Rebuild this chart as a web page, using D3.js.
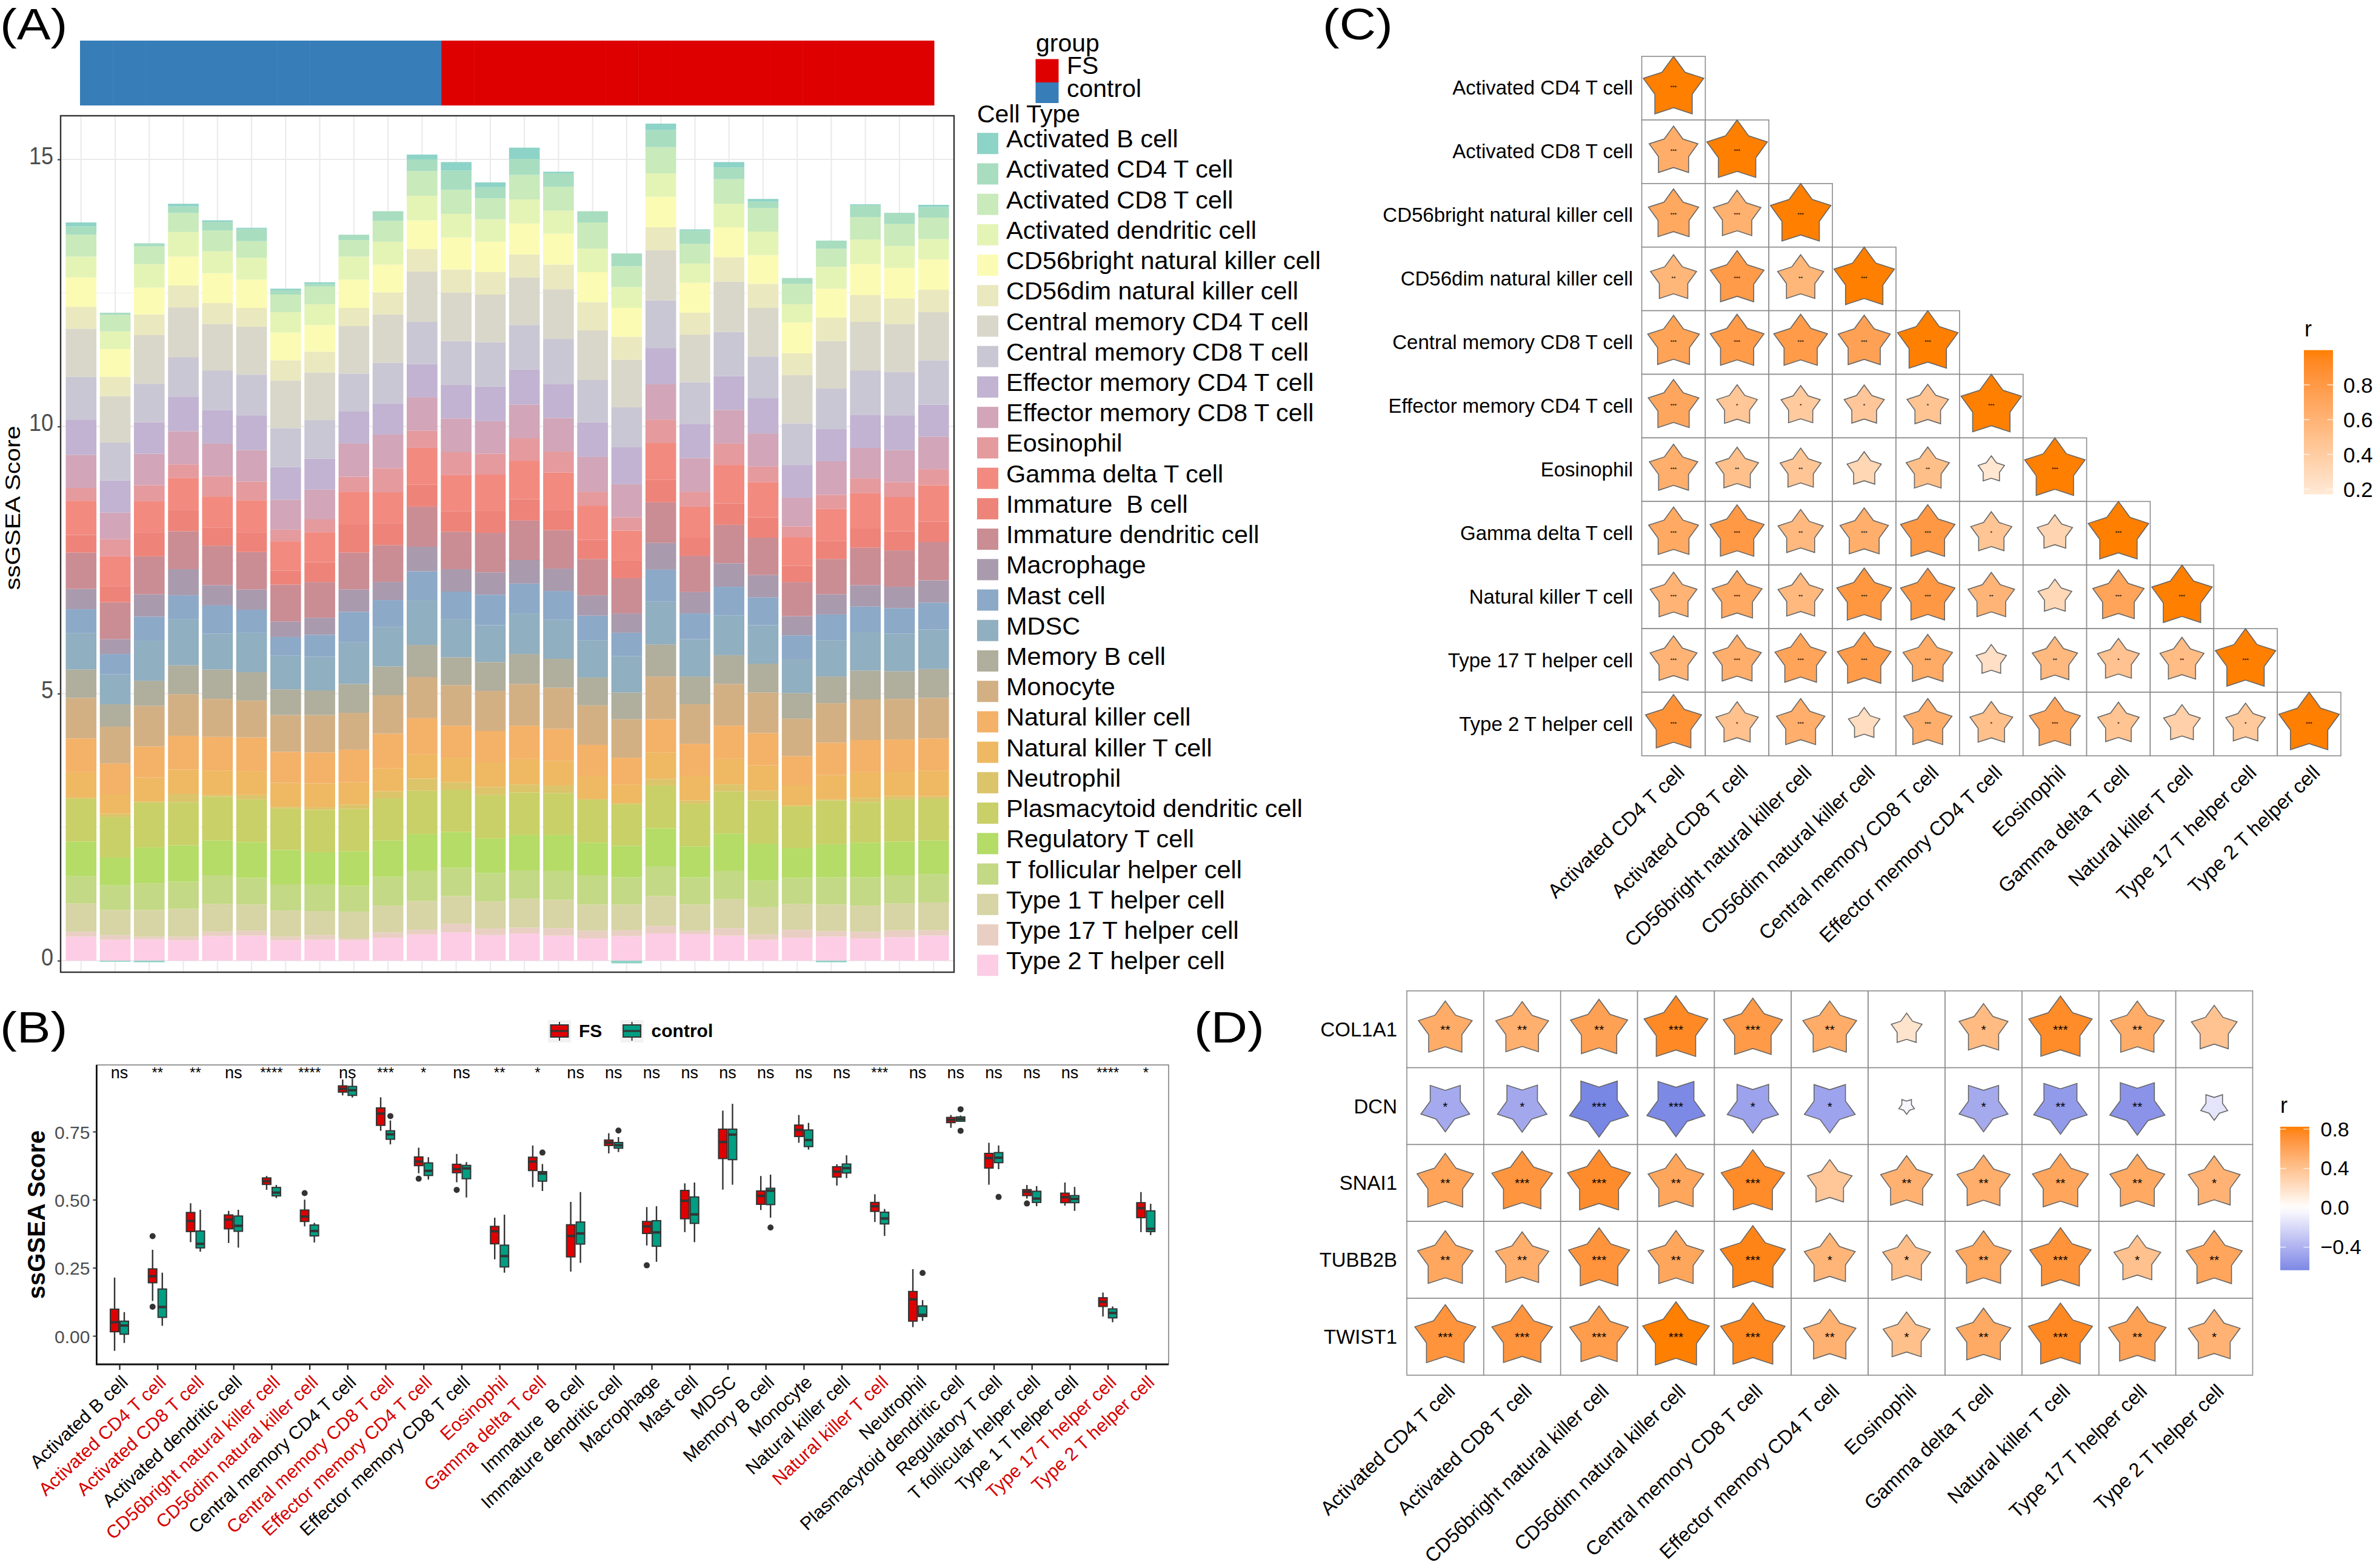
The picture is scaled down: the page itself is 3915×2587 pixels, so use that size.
<!DOCTYPE html>
<html>
<head>
<meta charset="utf-8">
<script src="https://cdnjs.cloudflare.com/ajax/libs/d3/7.8.5/d3.min.js"></script>
<style>
  html, body { margin: 0; padding: 0; background: #fff; overflow: hidden; }
  text { font-family: "Liberation Sans", Arial, sans-serif; white-space: pre; }
</style>
</head>
<body>
<svg id="fig" width="3915" height="2587"></svg>
<script>
// ---- panel A: ssGSEA score per sample, one array per cell type
var sampleGroup = ["control","control","control","control","control","control","control","control","control","control","control",
  "FS","FS","FS","FS","FS","FS","FS","FS","FS","FS","FS","FS","FS","FS","FS"];
var cellTypes = ["Activated B cell","Activated CD4 T cell","Activated CD8 T cell","Activated dendritic cell",
  "CD56bright natural killer cell","CD56dim natural killer cell","Central memory CD4 T cell","Central memory CD8 T cell",
  "Effector memory CD4 T cell","Effector memory CD8 T cell","Eosinophil","Gamma delta T cell","Immature  B cell",
  "Immature dendritic cell","Macrophage","Mast cell","MDSC","Memory B cell","Monocyte","Natural killer cell",
  "Natural killer T cell","Neutrophil","Plasmacytoid dendritic cell","Regulatory T cell","T follicular helper cell",
  "Type 1 T helper cell","Type 17 T helper cell","Type 2 T helper cell"];
var cellColors = ["#8DD3C7","#A8DDC0","#C9EABA","#E4F4B5","#FBFBB4","#EAE8BE","#D9D7C9","#CAC7D4","#C1B3D1","#D2A5B8",
  "#E59A9E","#F28A80","#EE8379","#CA8D94","#A99AAE","#8CA9C8","#90AFC0","#B0AE9C","#D3B084","#F4B168","#EEB962",
  "#DCC46B","#C9D067","#B4DC67","#C3D985","#D7D4A5","#E9CFC3","#FCCDE5"];

var activatedB = [.07,-.02,-.03,.05,.03,.02,.03,.03,0,0,.09,.16,.09,.21,.03,0,-.05,.12,.02,.10,.05,0,-.03,.02,0,.04];
var activatedCD4 = [.16,.04,.06,.12,.16,.23,.08,.05,.10,.18,.22,.36,.21,.30,.25,.21,.24,.32,.25,.22,.12,.11,.15,.22,.21,.20];
var activatedCD8 = [.41,.31,.33,.36,.39,.31,.33,.33,.31,.39,.46,.45,.39,.46,.45,.49,.39,.49,.37,.46,.44,.38,.34,.42,.41,.40];
var activatedDC = [.39,.33,.44,.46,.41,.41,.38,.39,.43,.43,.46,.44,.42,.45,.43,.44,.39,.44,.36,.44,.44,.34,.41,.46,.41,.38];
var cd56bright = [.55,.52,.50,.54,.56,.53,.52,.50,.53,.52,.54,.60,.57,.58,.58,.56,.54,.57,.56,.56,.54,.58,.54,.58,.57,.57];
var cd56dim = [.41,.36,.39,.41,.39,.35,.38,.39,.34,.41,.42,.43,.42,.43,.46,.53,.43,.43,.41,.46,.45,.41,.44,.50,.48,.42];
var centralCD4 = [.90,.87,.91,.93,.87,.90,.89,.89,.89,.91,.94,.91,.89,.89,.93,.93,.89,.94,.89,.94,.91,.90,.89,.91,.90,.90];
var centralCD8 = [.80,.71,.72,.74,.74,.76,.73,.72,.71,.76,.79,.82,.83,.83,.85,.79,.75,.89,.78,.83,.78,.78,.76,.83,.81,.83];
var effectorCD4 = [.66,.60,.59,.65,.63,.65,.61,.58,.60,.58,.62,.63,.65,.66,.63,.65,.69,.68,.64,.63,.66,.61,.60,.62,.65,.60];
var effectorCD8 = [.62,.50,.59,.62,.61,.59,.56,.56,.62,.63,.63,.63,.61,.63,.63,.65,.62,.66,.63,.63,.62,.54,.63,.57,.60,.61];
var eosinophil = [.24,.32,.30,.25,.38,.35,.22,.24,.28,.45,.32,.43,.39,.42,.39,.26,.25,.44,.28,.40,.29,.20,.26,.28,.28,.30];
var gammaDelta = [.64,.56,.58,.60,.58,.60,.55,.56,.61,.58,.69,.68,.68,.72,.70,.64,.56,.69,.58,.72,.66,.54,.60,.66,.64,.68];
var immatureB = [.33,.30,.45,.40,.34,.37,.26,.37,.53,.41,.41,.38,.41,.40,.38,.36,.33,.42,.34,.40,.38,.30,.34,.36,.36,.38];
var immatureDC = [.68,.69,.71,.71,.74,.70,.69,.67,.69,.69,.75,.70,.74,.74,.72,.68,.66,.76,.68,.72,.70,.64,.66,.70,.68,.72];
var macrophage = [.38,.28,.42,.49,.38,.38,.29,.32,.42,.34,.46,.42,.42,.44,.42,.38,.36,.50,.40,.44,.42,.36,.38,.40,.40,.42];
var mast = [.45,.38,.45,.45,.53,.43,.35,.41,.57,.50,.54,.52,.57,.56,.54,.46,.44,.60,.48,.54,.52,.44,.48,.48,.48,.50];
var mdsc = [.68,.56,.75,.86,.67,.74,.63,.63,.78,.74,.84,.71,.69,.76,.73,.70,.68,.80,.70,.74,.72,.64,.68,.72,.70,.74];
var memoryB = [.53,.42,.47,.54,.55,.53,.48,.46,.54,.54,.60,.52,.54,.56,.54,.52,.50,.60,.52,.54,.54,.48,.50,.54,.52,.54];
var monocyte = [.76,.69,.76,.78,.71,.69,.69,.70,.69,.72,.77,.76,.75,.78,.77,.74,.72,.80,.74,.78,.76,.70,.74,.76,.76,.76];
var naturalKiller = [.63,.57,.58,.63,.63,.63,.58,.58,.61,.65,.68,.60,.59,.62,.60,.58,.50,.62,.60,.62,.60,.54,.60,.60,.60,.60];
var naturalKillerT = [.48,.37,.45,.46,.46,.45,.45,.45,.42,.43,.45,.46,.46,.48,.46,.44,.35,.50,.46,.48,.48,.39,.46,.48,.46,.48];
var neutrophil = [.02,.06,.02,.15,.03,.08,.03,.05,.08,.13,.23,.14,.15,.15,.14,0,.02,.12,.06,.13,.18,0,.02,.08,.06,.05];
var plasmacytoidDC = [.80,.76,.84,.81,.82,.80,.78,.79,.79,.79,.81,.79,.81,.80,.79,.81,.78,.80,.80,.79,.81,.79,.82,.76,.79,.78];
var regulatoryT = [.65,.52,.67,.68,.65,.67,.64,.61,.65,.68,.69,.67,.65,.66,.67,.61,.59,.71,.58,.70,.69,.56,.62,.65,.63,.63];
var follicularHelper = [.51,.46,.50,.51,.54,.50,.49,.49,.48,.54,.56,.53,.53,.53,.54,.55,.51,.56,.51,.53,.50,.49,.51,.53,.53,.53];
var type1Helper = [.53,.47,.50,.52,.52,.49,.49,.45,.50,.50,.54,.52,.51,.54,.53,.49,.48,.56,.49,.54,.51,.48,.50,.49,.50,.52];
var type17Helper = [.09,.09,.05,.07,.08,.09,.07,.09,.04,.10,.09,.16,.12,.11,.14,.14,.11,.14,.06,.14,.10,.15,.10,.12,.13,.10];
var type2Helper = [.45,.39,.40,.38,.46,.47,.38,.39,.38,.43,.49,.53,.48,.51,.47,.42,.46,.51,.50,.47,.39,.43,.45,.42,.44,.47];
var cellSeries = [activatedB,activatedCD4,activatedCD8,activatedDC,cd56bright,cd56dim,centralCD4,centralCD8,effectorCD4,
  effectorCD8,eosinophil,gammaDelta,immatureB,immatureDC,macrophage,mast,mdsc,memoryB,monocyte,naturalKiller,
  naturalKillerT,neutrophil,plasmacytoidDC,regulatoryT,follicularHelper,type1Helper,type17Helper,type2Helper];
var scoreTicksA = [0,5,10,15];
var minorTicksA = [2.5,7.5,12.5];

// ---- panel B: box stats [low whisker, q1, median, q3, high whisker]
var fsBox = [[-.055,.015,.050,.098,.214],[.128,.195,.219,.246,.316],[.344,.383,.422,.453,.487],[.341,.393,.427,.444,.459],
  [.536,.556,.568,.580,.587],[.402,.420,.438,.462,.500],[.883,.895,.907,.918,.941],[.753,.773,.816,.837,.876],
  [.597,.625,.640,.657,.691],[.564,.599,.612,.630,.668],[.281,.338,.384,.402,.434],[.546,.607,.640,.656,.699],
  [.236,.290,.367,.408,.492],[.670,.699,.710,.719,.744],[.332,.376,.402,.420,.473],[.381,.430,.496,.534,.560],
  [.537,.651,.712,.759,.827],[.462,.483,.514,.532,.587],[.709,.732,.756,.774,.811],[.552,.583,.603,.621,.630],
  [.418,.457,.476,.490,.520],[.032,.054,.134,.163,.245],[.764,.783,.793,.802,.811],[.555,.616,.653,.670,.709],
  [.504,.515,.529,.537,.554],[.478,.489,.509,.524,.563],[.071,.108,.125,.140,.159],[.381,.434,.469,.489,.528]];
var controlBox = [[-.026,.006,.038,.054,.087],[.037,.068,.106,.172,.232],[.309,.323,.338,.385,.463],[.324,.384,.404,.440,.463],
  [.506,.514,.526,.545,.554],[.343,.367,.385,.407,.415],[.875,.883,.902,.916,.945],[.703,.722,.740,.753,.791],
  [.574,.589,.606,.635,.656],[.508,.577,.615,.626,.638],[.232,.253,.293,.333,.445],[.532,.568,.596,.603,.631],
  [.268,.337,.376,.418,.528],[.675,.689,.700,.710,.730],[.272,.329,.380,.423,.476],[.344,.413,.446,.510,.563],
  [.555,.647,.739,.759,.852],[.434,.482,.533,.542,.592],[.684,.695,.719,.756,.782],[.579,.598,.616,.631,.663],
  [.367,.411,.431,.454,.466],[.055,.071,.077,.110,.131],[.788,.788,.796,.804,.809],[.612,.636,.654,.673,.699],
  [.476,.490,.504,.531,.550],[.459,.489,.503,.515,.547],[.050,.066,.084,.099,.108],[.370,.383,.393,.459,.485]];
// outliers as [category index, value]
var fsOutliers = [[1,.366],[1,.107],[5,.524],[8,.577],[9,.536],[14,.259],[24,.486]];
var controlOutliers = [[7,.807],[11,.673],[13,.754],[17,.398],[21,.231],[22,.832],[22,.753],[23,.510]];
var significance = ["ns","**","**","ns","****","****","ns","***","*","ns","**","*","ns","ns","ns","ns","ns","ns","ns","ns",
  "***","ns","ns","ns","ns","ns","****","*"];
var scoreTicksB = [0,.25,.5,.75];

// ---- panel C: correlation between cell types (lower triangle)
var cLabels = ["Activated CD4 T cell","Activated CD8 T cell","CD56bright natural killer cell","CD56dim natural killer cell",
  "Central memory CD8 T cell","Effector memory CD4 T cell","Eosinophil","Gamma delta T cell","Natural killer T cell",
  "Type 17 T helper cell","Type 2 T helper cell"];
var corrC = [[1],
  [.65,1],
  [.69,.62,1],
  [.58,.79,.58,1],
  [.73,.79,.79,.74,1],
  [.70,.45,.42,.44,.47,1],
  [.64,.50,.46,.32,.51,.19,1],
  [.68,.80,.56,.64,.81,.46,.34,1],
  [.60,.68,.56,.82,.81,.59,.31,.72,1],
  [.60,.64,.72,.79,.67,.25,.56,.48,.53,1],
  [.86,.49,.64,.27,.64,.50,.71,.47,.37,.43,1]];
var sigC = [["***"],
  ["***","***"],
  ["***","***","***"],
  ["**","***","**","***"],
  ["***","***","***","***","***"],
  ["***","*","*","*","*","***"],
  ["***","**","**","","**","","***"],
  ["***","***","**","***","***","*","","***"],
  ["***","***","**","***","***","**","","***","***"],
  ["***","***","***","***","***","","**","*","**","***"],
  ["***","*","***","","***","*","***","*","","*","***"]];
var legendTicksC = [.2,.4,.6,.8];

// ---- panel D: genes against cell types
var genes = ["COL1A1","DCN","SNAI1","TUBB2B","TWIST1"];
var corrD = [[.54,.52,.61,.76,.655,.54,.177,.446,.75,.54,.39],
  [-.444,-.457,-.648,-.632,-.49,-.483,-.045,-.446,-.534,-.57,-.135],
  [.595,.686,.743,.58,.75,.37,.506,.527,.584,.562,.5],
  [.573,.53,.694,.58,.793,.483,.427,.57,.70,.408,.584],
  [.694,.686,.64,.827,.776,.51,.414,.555,.767,.614,.5]];
var sigD = [["**","**","**","***","***","**","","*","***","**",""],
  ["*","*","***","***","*","*","","*","**","**",""],
  ["**","***","***","**","***","","**","**","**","**","*"],
  ["**","**","***","**","***","*","*","**","***","*","**"],
  ["***","***","***","***","***","**","*","**","***","**","*"]];
var legendTicksD = [-.4,0,.4,.8];

var RED = "#DE0000", BLUE = "#377DB8", TEAL = "#009E82";
var svg = d3.select("#fig");
var defs = svg.append("defs");

function label(parent, str, x, y, size, opts) {
  opts = opts || {};
  var t = "translate(" + x + "," + y + ")";
  if (opts.squeeze) t += " scale(" + opts.squeeze + ",1)";
  if (opts.rotate) t += " rotate(" + opts.rotate + ")";
  return parent.append("text").attr("transform", t)
    .attr("text-anchor", opts.anchor || "start")
    .attr("font-size", size)
    .attr("font-weight", opts.bold ? "bold" : "normal")
    .attr("fill", opts.fill || "#000")
    .text(str);
}

// panel letters
label(svg, "(A)", 0, 65, 72, { squeeze: 1.16 });
label(svg, "(B)", 0, 1720, 72, { squeeze: 1.16 });
label(svg, "(C)", 2182, 65, 72, { squeeze: 1.16 });
label(svg, "(D)", 1970, 1720, 72, { squeeze: 1.16 });

// ================= A =================
var gA = svg.append("g");
var xA = d3.scaleBand().domain(d3.range(sampleGroup.length)).range([100, 1574]).paddingInner(.1).paddingOuter(.15);
var yA = d3.scaleLinear().domain([0, 15]).range([1585, 263]);

var xGroup = d3.scaleBand().domain(d3.range(sampleGroup.length)).range([132, 1541]);
gA.selectAll("rect.annot").data(sampleGroup).enter().append("rect").attr("class", "annot")
  .attr("x", function (d, i) { return xGroup(i); })
  .attr("y", 67).attr("height", 107)
  .attr("width", xGroup.bandwidth() + .5)
  .attr("fill", function (d) { return d === "FS" ? RED : BLUE; });

gA.append("g").selectAll("line").data(minorTicksA).enter().append("line")
  .attr("x1", 100).attr("x2", 1574)
  .attr("y1", function (d) { return yA(d); }).attr("y2", function (d) { return yA(d); })
  .attr("stroke", "#F0F0F0").attr("stroke-width", 1.2);
gA.append("g").selectAll("line").data(scoreTicksA).enter().append("line")
  .attr("x1", 100).attr("x2", 1574)
  .attr("y1", function (d) { return yA(d); }).attr("y2", function (d) { return yA(d); })
  .attr("stroke", "#EBEBEB").attr("stroke-width", 2.2);
gA.append("g").selectAll("line").data(sampleGroup).enter().append("line")
  .attr("x1", function (d, i) { return xA(i) + xA.bandwidth() / 2; })
  .attr("x2", function (d, i) { return xA(i) + xA.bandwidth() / 2; })
  .attr("y1", 191).attr("y2", 1604)
  .attr("stroke", "#EBEBEB").attr("stroke-width", 2.2);

var rowsA = sampleGroup.map(function (g, i) {
  var row = {};
  cellTypes.forEach(function (c, k) { row[c] = cellSeries[k][i]; });
  return row;
});
// first cell type sits on top, like ggplot stacks
var stackA = d3.stack().keys(cellTypes.slice().reverse()).offset(d3.stackOffsetDiverging)(rowsA);
var colorA = d3.scaleOrdinal().domain(cellTypes).range(cellColors);
gA.append("g").selectAll("g").data(stackA).enter().append("g")
  .attr("fill", function (d) { return colorA(d.key); })
  .selectAll("rect").data(function (d) { return d; }).enter().append("rect")
  .attr("x", function (d, i) { return xA(i); })
  .attr("width", xA.bandwidth())
  .attr("y", function (d) { return yA(d[1]); })
  .attr("height", function (d) { return Math.abs(yA(d[0]) - yA(d[1])); });

gA.append("rect").attr("x", 100).attr("y", 191).attr("width", 1474).attr("height", 1413)
  .attr("fill", "none").attr("stroke", "#333").attr("stroke-width", 2.4);

var axisA = gA.append("g").attr("transform", "translate(100,0)")
  .call(d3.axisLeft(yA).tickValues(scoreTicksA).tickSize(5).tickFormat(d3.format("d")));
axisA.select(".domain").remove();
axisA.selectAll("line").attr("stroke", "#333").attr("stroke-width", 2);
axisA.selectAll("text").attr("font-size", 40).attr("fill", "#4D4D4D").attr("dy", 0).attr("x", 0)
  .attr("text-anchor", "end").attr("font-family", null)
  .attr("transform", "translate(-12,7) scale(.9,1)");
label(gA, "ssGSEA Score", 33, 838, 41, { rotate: -90, anchor: "middle", squeeze: .85 });

// group legend
label(gA, "group", 1709, 85, 41);
gA.append("rect").attr("x", 1708.5).attr("y", 97.5).attr("width", 38).attr("height", 38.5).attr("fill", RED);
gA.append("rect").attr("x", 1708.5).attr("y", 136).attr("width", 38).attr("height", 34).attr("fill", BLUE);
label(gA, "FS", 1760, 122, 41);
label(gA, "control", 1760, 160, 41);
label(gA, "Cell Type", 1612, 202, 41);

var yLegendA = d3.scalePoint().domain(cellTypes).range([236.7, 1592.7]);
var keysA = gA.append("g").selectAll("g").data(cellTypes).enter().append("g")
  .attr("transform", function (d) { return "translate(1612," + yLegendA(d) + ")"; });
keysA.append("rect").attr("y", -17.5).attr("width", 35).attr("height", 35)
  .attr("fill", function (d) { return colorA(d); });
keysA.append("text").attr("x", 48).attr("y", 6.5).attr("font-size", 41.5).text(function (d) { return d; });

// ================= B =================
var gB = svg.append("g");
var xB = d3.scalePoint().domain(cellTypes).range([159.4, 1928]).padding(.6);
var yB = d3.scaleLinear().domain([0, .75]).range([2204, 1867]);
var dodge = 8, boxWidth = 14;
var redLabels = ["Activated CD4 T cell","Activated CD8 T cell","CD56bright natural killer cell","CD56dim natural killer cell",
  "Central memory CD8 T cell","Effector memory CD4 T cell","Eosinophil","Gamma delta T cell","Natural killer T cell",
  "Type 17 T helper cell","Type 2 T helper cell"];

function drawBoxes(stats, outliers, offset, fill) {
  var g = gB.append("g").attr("stroke", "#333");
  var each = g.selectAll("g").data(stats).enter().append("g")
    .attr("transform", function (d, i) { return "translate(" + (xB(cellTypes[i]) + offset) + ",0)"; });
  each.append("line").attr("y1", function (d) { return yB(d[0]); }).attr("y2", function (d) { return yB(d[4]); })
    .attr("stroke-width", 2.4);
  each.append("rect").attr("x", -boxWidth / 2).attr("width", boxWidth)
    .attr("y", function (d) { return yB(d[3]); })
    .attr("height", function (d) { return yB(d[1]) - yB(d[3]); })
    .attr("fill", fill).attr("stroke-width", 2);
  each.append("line").attr("x1", -boxWidth / 2).attr("x2", boxWidth / 2)
    .attr("y1", function (d) { return yB(d[2]); }).attr("y2", function (d) { return yB(d[2]); })
    .attr("stroke-width", 4);
  g.selectAll("circle").data(outliers).enter().append("circle")
    .attr("cx", function (d) { return xB(cellTypes[d[0]]) + offset; })
    .attr("cy", function (d) { return yB(d[1]); })
    .attr("r", 5).attr("fill", "#333").attr("stroke", "none");
}
drawBoxes(fsBox, fsOutliers, -dodge, RED);
drawBoxes(controlBox, controlOutliers, dodge, TEAL);

gB.append("rect").attr("x", 159.4).attr("y", 1757).attr("width", 1768.6).attr("height", 494)
  .attr("fill", "none").attr("stroke", "#555").attr("stroke-width", 1.2);
gB.append("path").attr("d", d3.line()([[159.4, 1757], [159.4, 2251], [1928, 2251]]))
  .attr("fill", "none").attr("stroke", "#111").attr("stroke-width", 2.8);

var axisB = gB.append("g").attr("transform", "translate(159.4,0)")
  .call(d3.axisLeft(yB).tickValues(scoreTicksB).tickSize(6).tickFormat(d3.format(".2f")));
axisB.select(".domain").remove();
axisB.selectAll("line").attr("stroke", "#333").attr("stroke-width", 2);
axisB.selectAll("text").attr("font-size", 30).attr("fill", "#4D4D4D").attr("dy", 0).attr("x", 0)
  .attr("text-anchor", "end").attr("font-family", null)
  .attr("transform", "translate(-11,11)");

var axisBx = gB.append("g").attr("transform", "translate(0,2251)")
  .call(d3.axisBottom(xB).tickSize(9).tickFormat(""));
axisBx.select(".domain").remove();
axisBx.selectAll("line").attr("stroke", "#222").attr("stroke-width", 2.2);
gB.selectAll("text.catB").data(cellTypes).enter().append("text").attr("class", "catB")
  .attr("transform", function (d) { return "translate(" + (xB(d) + 16) + ",2283) rotate(-43)"; })
  .attr("text-anchor", "end").attr("font-size", 30.3)
  .attr("fill", function (d) { return redLabels.indexOf(d) >= 0 ? "#D60000" : "#000"; })
  .text(function (d) { return d; });

label(gB, "ssGSEA Score", 74, 2004, 40, { rotate: -90, anchor: "middle", bold: true });

gB.selectAll("text.sig").data(significance).enter().append("text").attr("class", "sig")
  .attr("x", function (d, i) { return xB(cellTypes[i]); })
  .attr("y", function (d) { return d === "ns" ? 1779 : 1778; })
  .attr("text-anchor", "middle").attr("font-size", function (d) { return d === "ns" ? 27 : 24; })
  .text(function (d) { return d; });

// box legend
[["FS", RED, 904, 955], ["control", TEAL, 1023.6, 1074.6]].forEach(function (d) {
  var k = gB.append("g").attr("transform", "translate(" + d[2] + ",1683)");
  k.append("rect").attr("width", 38).attr("height", 37).attr("fill", "#F2F2F2");
  k.append("line").attr("x1", 19).attr("x2", 19).attr("y1", 3).attr("y2", 34).attr("stroke", "#333").attr("stroke-width", 2);
  k.append("rect").attr("x", 4.5).attr("y", 8).attr("width", 29).attr("height", 20).attr("fill", d[1]).attr("stroke", "#333").attr("stroke-width", 2);
  k.append("line").attr("x1", 4.5).attr("x2", 33.5).attr("y1", 18).attr("y2", 18).attr("stroke", "#333").attr("stroke-width", 3);
  label(gB, d[0], d[3], 1711, 30, { bold: true });
});

// ================= C and D helpers =================
function starPath(R) {
  var pts = d3.range(10).map(function (i) { return [i * Math.PI / 5, i % 2 ? R * .618 : R]; });
  return d3.lineRadial().curve(d3.curveLinearClosed)(pts);
}
function cellGroup(parent, x, y, size, r, sig, color, sigSize, sigDy) {
  parent.append("rect").attr("x", x).attr("y", y).attr("width", size).attr("height", size)
    .attr("fill", "#fff").attr("stroke", "#8C8C8C").attr("stroke-width", 1.6);
  var R = size / 2 * Math.sqrt(Math.abs(r));
  parent.append("path").attr("d", starPath(R))
    .attr("transform", "translate(" + (x + size / 2) + "," + (y + size / 2) + ")" + (r < 0 ? " rotate(180)" : ""))
    .attr("fill", color(r)).attr("stroke", "#666").attr("stroke-width", 1.6);
  if (sig) {
    parent.append("text").attr("x", x + size / 2).attr("y", y + size / 2 + sigDy)
      .attr("text-anchor", "middle").attr("font-size", sigSize).text(sig);
  }
}
function colorBar(parent, id, scale, x, y0, y1, lo, hi, width) {
  var grad = defs.append("linearGradient").attr("id", id).attr("x1", 0).attr("x2", 0).attr("y1", 1).attr("y2", 0);
  d3.range(0, 1.001, .05).forEach(function (t) {
    grad.append("stop").attr("offset", t).attr("stop-color", scale(lo + (hi - lo) * t));
  });
  parent.append("rect").attr("x", x).attr("y", y0).attr("width", width).attr("height", y1 - y0)
    .attr("fill", "url(#" + id + ")");
}
function barTicks(parent, ticks, y, x, width) {
  ticks.forEach(function (t) {
    parent.append("line").attr("x1", x).attr("x2", x + width / 5).attr("y1", y(t)).attr("y2", y(t))
      .attr("stroke", "#fff").attr("stroke-opacity", .7).attr("stroke-width", 1.6);
    parent.append("line").attr("x1", x + width * 4 / 5).attr("x2", x + width).attr("y1", y(t)).attr("y2", y(t))
      .attr("stroke", "#fff").attr("stroke-opacity", .7).attr("stroke-width", 1.6);
  });
}

// ================= C =================
var gC = svg.append("g");
var posC = d3.scaleBand().domain(d3.range(cLabels.length)).range([2708.6, 3862]);
var yBandC = d3.scaleBand().domain(d3.range(cLabels.length)).range([93, 1247]);
var colorC = d3.scaleLinear().domain([0, 1]).range(["#ffffff", "#FF7F00"]).interpolate(d3.interpolateLab);
corrC.forEach(function (row, i) {
  row.forEach(function (r, j) {
    cellGroup(gC, posC(j), yBandC(i), posC.bandwidth(), r, sigC[i][j], colorC, 9, 2);
  });
  label(gC, cLabels[i], 2694, yBandC(i) + posC.bandwidth() / 2 + 11, 33, { anchor: "end" });
  gC.append("text")
    .attr("transform", "translate(" + (posC(i) + posC.bandwidth() / 2 + 20) + ",1277) rotate(-44)")
    .attr("text-anchor", "end").attr("font-size", 33).text(cLabels[i]);
});
var yLegC = d3.scaleLinear().domain([.2, .8]).range([807, 635]);
colorBar(gC, "gradC", colorC, 3801, yLegC(1), yLegC(.17), .17, 1, 48);
barTicks(gC, legendTicksC, yLegC, 3801, 48);
label(gC, "r", 3802, 555, 36);
legendTicksC.forEach(function (t) {
  label(gC, d3.format(".1f")(t), 3866, yLegC(t) + 13, 35);
});

// ================= D =================
var gD = svg.append("g");
var xD = d3.scaleBand().domain(d3.range(cLabels.length)).range([2321, 3716.5]);
var yD = d3.scaleBand().domain(genes).range([1634.8, 2268.8]);
var colorD = d3.scaleLinear().domain([-.635, 0, .825]).range(["#7B88E5", "#ffffff", "#FF7F00"]).interpolate(d3.interpolateLab);
genes.forEach(function (g, i) {
  corrD[i].forEach(function (r, j) {
    cellGroup(gD, xD(j), yD(g), xD.bandwidth(), r, sigD[i][j], colorD, 21, 7.5);
  });
  label(gD, g, 2305, yD(g) + yD.bandwidth() / 2 + 11.5, 33, { anchor: "end" });
});
gD.selectAll("text.catD").data(cLabels).enter().append("text").attr("class", "catD")
  .attr("transform", function (d, i) { return "translate(" + (xD(i) + xD.bandwidth() / 2 + 18) + ",2298) rotate(-44)"; })
  .attr("text-anchor", "end").attr("font-size", 32.5)
  .text(function (d) { return d; });
var yLegD = d3.scaleLinear().domain([-.4, .8]).range([2057.6, 1863]);
colorBar(gD, "gradD", colorD, 3762, yLegD(.825), yLegD(-.635), -.635, .825, 48);
barTicks(gD, legendTicksD, yLegD, 3762, 48);
label(gD, "r", 3762, 1836, 36);
legendTicksD.forEach(function (t) {
  label(gD, d3.format(".1f")(t).replace("-", "\u2212"), 3828.5, yLegD(t) + 11.5, 34);
});
</script>
</body>
</html>
